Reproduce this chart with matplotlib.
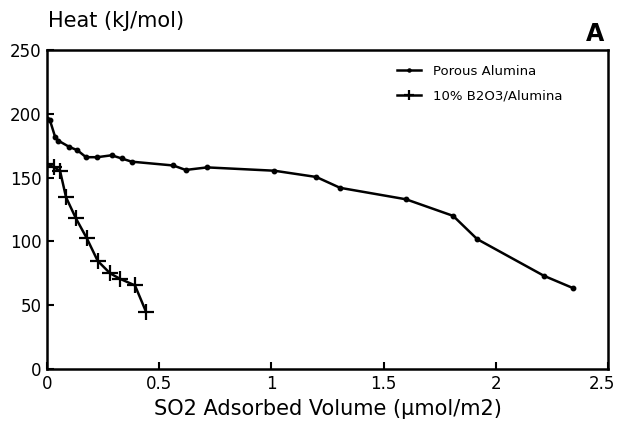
import numpy as np
from matplotlib import pyplot as plt
from matplotlib import transforms

# data
porous_x = [0.0, 0.013, 0.036, 0.05, 0.10, 0.135, 0.174, 0.224, 0.288, 0.333, 0.377,
            0.563, 0.618, 0.714, 1.013, 1.20, 1.306, 1.60, 1.81, 1.917, 2.215, 2.343]
porous_y = [196, 195, 182, 179, 174, 171.5, 166, 166, 167.5, 165, 162.5,
            159.5, 156, 158, 155.4, 150.5, 142, 133, 120, 101.8, 73, 63.5]

boria_x = [0.0, 0.031, 0.058, 0.085, 0.129, 0.177, 0.226, 0.281, 0.325, 0.392, 0.441]
boria_y = [161, 158, 155.4, 134.5, 118, 102.6, 84.7, 75, 70.7, 65.5, 45]

x_ticks = [0, 0.5, 1, 1.5, 2, 2.5]
x_tick_labels = ["0", "0.5", "1", "1.5", "2", "2.5"]
y_ticks = [0, 50, 100, 150, 200, 250]

plt.rcParams["font.family"] = ["DejaVu Sans"]

fig = plt.figure(figsize=(6.2, 4.29), dpi=100)
ax = fig.add_axes([0.0758, 0.1399, 0.9048, 0.7435])

ax.plot(porous_x, porous_y, color="black", lw=1.8, marker="o", ms=3.2,
        label="Porous Alumina")
ax.plot(boria_x, boria_y, color="black", lw=1.8, marker="+", ms=11, mew=1.6,
        label="10% B2O3/Alumina")

ax.set_xlim(0, 2.5)
ax.set_ylim(0, 250)
ax.set_xticks(x_ticks)
ax.set_xticklabels(x_tick_labels)
ax.set_yticks(y_ticks)
ax.tick_params(direction="in", length=5, width=1.5, labelsize=12, pad=4)

# keep the last x tick label inside the figure
last = ax.get_xticklabels()[-1]
last.set_transform(last.get_transform() + transforms.ScaledTranslation(-6 / 100, 0, fig.dpi_scale_trans))

for spine in ax.spines.values():
    spine.set_linewidth(1.8)

ax.set_xlabel("SO2 Adsorbed Volume (μmol/m2)", fontsize=15, labelpad=5)
fig.text(0.078, 0.95, "Heat (kJ/mol)", fontsize=15, ha="left", va="center")
fig.text(0.975, 0.92, "A", fontsize=17, fontweight="bold", ha="right", va="center")

ax.legend(loc="upper right", bbox_to_anchor=(0.94, 0.99), frameon=False,
          fontsize=9.5, handlelength=1.8, labelspacing=0.9, handletextpad=0.9,
          markerscale=0.7)

fig.savefig("out.png", dpi=100)
